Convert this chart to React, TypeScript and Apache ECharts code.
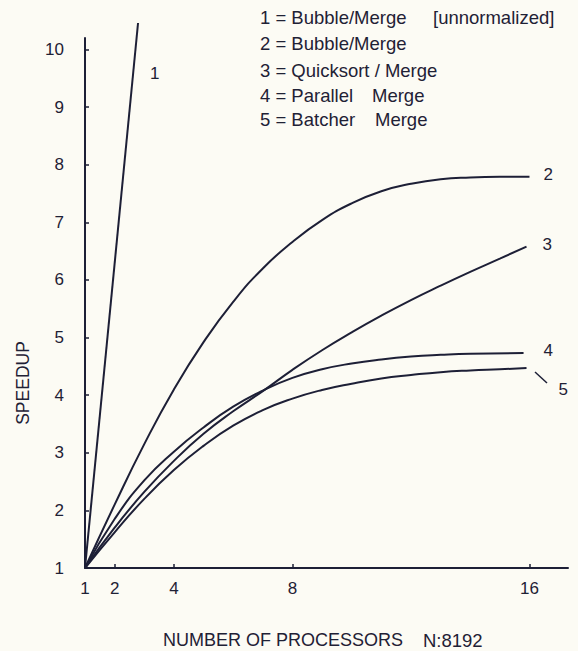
import React, { useEffect, useRef } from "react";
import * as echarts from "echarts";

// Axis ticks
const xTickValues = [1, 2, 4, 8, 16];
const yTickValues = [1, 2, 3, 4, 5, 6, 7, 8, 9, 10];

// 1 = Bubble/Merge [unnormalized]
const s1x = [1, 2.79];
const s1y = [1, 10.46];
// 2 = Bubble/Merge
const s2x = [1, 2, 3, 4, 5, 6, 7, 8, 9, 10, 11, 12, 13, 14, 15, 16];
const s2y = [1, 2.1, 3.15, 4.1, 4.92, 5.62, 6.2, 6.66, 7.04, 7.33, 7.54, 7.67, 7.75, 7.78, 7.79, 7.79];
// 3 = Quicksort / Merge
const s3x = [1, 2, 3, 4, 5, 6, 7, 8, 9, 10, 11, 12, 13, 14, 15, 15.9];
const s3y = [1, 1.7, 2.32, 2.86, 3.33, 3.72, 4.07, 4.44, 4.78, 5.09, 5.38, 5.65, 5.9, 6.14, 6.37, 6.58];
// 4 = Parallel Merge
const s4x = [1, 2, 3, 4, 5, 6, 7, 8, 9, 10, 11, 12, 13, 14, 15.8];
const s4y = [1, 1.85, 2.52, 3.02, 3.44, 3.8, 4.08, 4.3, 4.45, 4.55, 4.62, 4.67, 4.7, 4.72, 4.73];
// 5 = Batcher Merge
const s5x = [1, 2, 3, 4, 5, 6, 7, 8, 9, 10, 11, 12, 13, 14, 15, 15.9];
const s5y = [1, 1.62, 2.2, 2.7, 3.12, 3.47, 3.74, 3.94, 4.09, 4.2, 4.29, 4.35, 4.4, 4.43, 4.45, 4.47];

const legendLines = [
  "1 = Bubble/Merge",
  "2 = Bubble/Merge",
  "3 = Quicksort / Merge",
  "4 = Parallel",
  "5 = Batcher",
];
const legendExtras = ["[unnormalized]", "", "", "Merge", "Merge"];

const INK = "#1d1f36";
const TXT = "#1f2135";
const FONT = "'Liberation Sans', Arial, Helvetica, sans-serif";

const pairs = (xs: number[], ys: number[]) => xs.map((x, i) => [x, ys[i]]);

export default function App() {
  const ref = useRef<HTMLDivElement>(null);
  useEffect(() => {
    if (!ref.current) return;
    const chart = echarts.init(ref.current, undefined, { renderer: "svg" });
    const lineSeries = (
      name: string,
      data: number[][],
      label: string,
      offset: number[],
      smooth: number | boolean
    ) => ({
      name,
      type: "line",
      data,
      showSymbol: false,
      smooth,
      clip: false,
      silent: true,
      lineStyle: { color: INK, width: 2 },
      endLabel: {
        show: true,
        formatter: label,
        offset,
        color: TXT,
        fontSize: 17,
        fontFamily: FONT,
      },
    });
    const legendY = [17, 43, 70, 95, 119];
    const extraX = [433, 0, 0, 372, 375];
    const graphic: any[] = [];
    legendLines.forEach((t, i) => {
      graphic.push({
        type: "text",
        x: 260,
        y: legendY[i],
        style: { text: t, fill: TXT, font: `18.5px ${FONT}`, verticalAlign: "middle" },
      });
      if (legendExtras[i]) {
        graphic.push({
          type: "text",
          x: extraX[i],
          y: legendY[i],
          style: { text: legendExtras[i], fill: TXT, font: `18.5px ${FONT}`, verticalAlign: "middle" },
        });
      }
    });
    graphic.push({
      type: "text",
      x: 163,
      y: 640,
      style: { text: "NUMBER OF PROCESSORS", fill: TXT, font: `18px ${FONT}`, verticalAlign: "middle" },
    });
    graphic.push({
      type: "text",
      x: 423,
      y: 640,
      style: { text: "N:8192", fill: TXT, font: `18.5px ${FONT}`, verticalAlign: "middle" },
    });
    graphic.push({
      type: "text",
      x: 23,
      y: 383,
      rotation: Math.PI / 2,
      style: {
        text: "SPEEDUP",
        fill: TXT,
        font: `17.5px ${FONT}`,
        align: "center",
        verticalAlign: "middle",
      },
    });
    graphic.push({
      type: "line",
      shape: { x1: 535, y1: 372, x2: 547, y2: 383 },
      style: { stroke: INK, lineWidth: 1.5 },
    });

    chart.setOption({
      animation: false,
      backgroundColor: "#fcfbf4",
      grid: { left: 85, right: 10, top: 38, bottom: 83, containLabel: false },
      xAxis: {
        type: "value",
        min: 1,
        max: 17.3,
        splitLine: { show: false },
        axisLine: { show: true, lineStyle: { color: INK, width: 2 } },
        axisTick: {
          show: true,
          inside: true,
          length: 4,
          customValues: xTickValues,
          lineStyle: { color: INK, width: 1.5 },
        },
        axisLabel: {
          customValues: xTickValues,
          margin: 12,
          color: TXT,
          fontSize: 17,
          fontFamily: FONT,
        },
      },
      yAxis: {
        type: "value",
        min: 1,
        max: 10.2,
        splitLine: { show: false },
        axisLine: { show: true, lineStyle: { color: INK, width: 2 } },
        axisTick: {
          show: true,
          inside: true,
          length: 4,
          customValues: yTickValues,
          lineStyle: { color: INK, width: 1.5 },
        },
        axisLabel: {
          customValues: yTickValues,
          margin: 21,
          color: TXT,
          fontSize: 17,
          fontFamily: FONT,
        },
      },
      graphic,
      series: [
        lineSeries("1", pairs(s1x, s1y), "1", [4, 50], false),
        lineSeries("2", pairs(s2x, s2y), "2", [6, -2], 0.5),
        lineSeries("3", pairs(s3x, s3y), "3", [8, -2], 0.5),
        lineSeries("4", pairs(s4x, s4y), "4", [12, -3], 0.5),
        lineSeries("5", pairs(s5x, s5y), "5", [24, 21], 0.5),
      ],
    });
    return () => chart.dispose();
  }, []);
  return (
    <div
      ref={ref}
      style={{ position: "absolute", left: 0, top: 0, width: 578, height: 651 }}
    />
  );
}
